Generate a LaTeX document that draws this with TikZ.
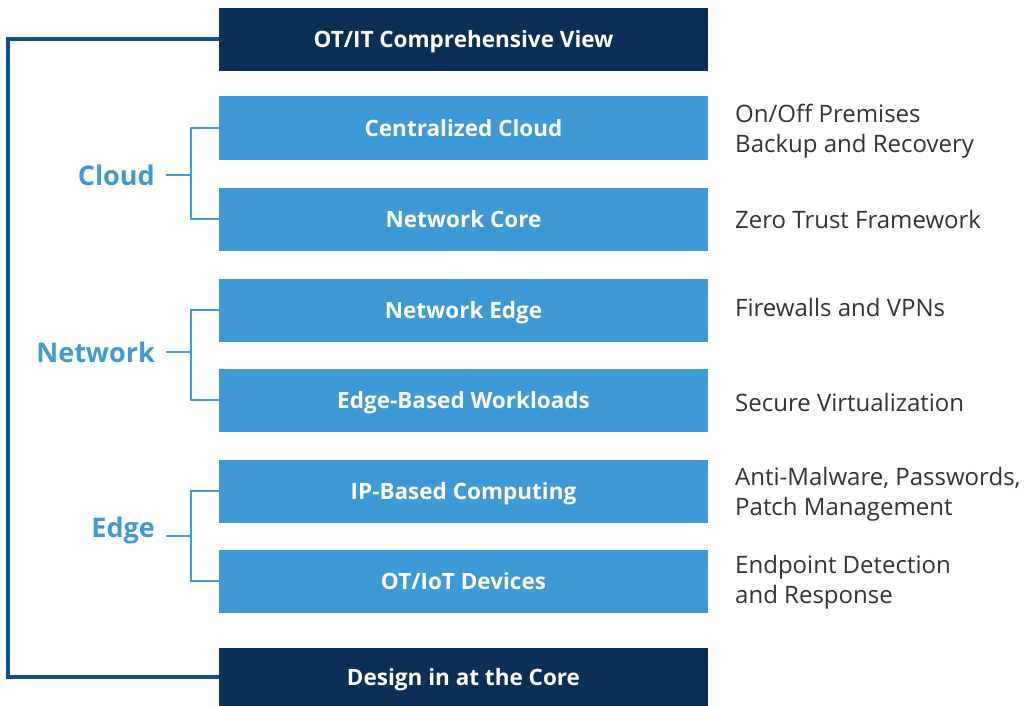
\documentclass[tikz,border=0pt]{standalone}
\usepackage{fontspec}
\setmainfont{Open Sans}
\usetikzlibrary{positioning}

\definecolor{navy}{HTML}{0A2F57}
\definecolor{skyblue}{HTML}{3D9AD6}
\definecolor{frameblue}{HTML}{0B4F8F}
\definecolor{notegray}{HTML}{333333}

\tikzset{
	darkbox/.style = {fill = navy, text = white, minimum width = 489pt, minimum height = 63pt, inner sep = 0pt, text height = 17pt, text depth = 0pt, font = \bfseries\fontsize{22.5}{26}\selectfont},
	lightbox/.style = {darkbox, fill = skyblue},
	layer/.style = {text = skyblue, anchor = east, inner sep = 0pt, font = \bfseries\fontsize{27}{30}\selectfont},
	note/.style = {text = notegray, anchor = west, align = left, inner sep = 0pt, font = \fontsize{24}{30}\selectfont},
	frame/.style = {frameblue, line width = 4pt},
	bracket/.style = {skyblue, line width = 2.5pt}
}

\begin{document}
\begin{tikzpicture}[x = 1pt, y = -1pt]

	% Definitions
	
	\def\X{463.5}	% Box centre
	\def\J{191}		% Bracket joint
	
	\useasboundingbox (0, 0) rectangle (1027, 706);
	
	% Stack of layers
	
	\node [darkbox] (view) at (\X, 39.5) {OT/IT Comprehensive View};
	\node [darkbox, minimum height = 58pt] (design) at (\X, 676.5) {Design in at the Core};
	
	\foreach \y/\name/\txt in {128/cloudbox/{Centralized Cloud}, 219/corebox/{Network Core}, 310/edgebox/{Network Edge}, 400/workbox/{Edge-Based Workloads}, 491/ipbox/{IP-Based Computing}, 581/iotbox/{OT/IoT Devices}}
	{
		\node [lightbox] (\name) at (\X, \y) {\txt};
	}
	
	% Notes on the right
	
	\node [note] (n1) at (735, 131) {On/Off Premises\\Backup and Recovery};
	\node [note] (n2) at (735, 219) {Zero Trust Framework};
	\node [note] (n3) at (735, 307) {Firewalls and VPNs};
	\node [note] (n4) at (735, 402) {Secure Virtualization};
	\node [note] (n5) at (735, 494) {Anti-Malware, Passwords,\\Patch Management};
	\node [note] (n6) at (735, 582) {Endpoint Detection\\and Response};
	
	% Outer frame
	
	\draw [frame] (view.west) -- ++(-210.5, 0) |- (design.west);
	
	% Layer labels and brackets
	
	\node [layer] (cloud) at (155, 175) {Cloud};
	\node [layer] (network) at (155, 352) {Network};
	\node [layer] (edge) at (155, 530) {Edge};
	
	\coordinate (cloudjoint) at (\J, 175);
	\coordinate (networkjoint) at (\J, 352);
	\coordinate (edgejoint) at (\J, 536);
	
	\draw [bracket] (cloudbox.west) -- ++(-28, 0) |- (corebox.west);
	\draw [bracket] (edgebox.west) -- ++(-28, 0) |- (workbox.west);
	\draw [bracket] (ipbox.west) -- ++(-28, 0) |- (iotbox.west);
	
	\draw [bracket] ([xshift = 11pt] cloud.east) -- (cloudjoint);
	\draw [bracket] ([xshift = 11pt] network.east) -- (networkjoint);
	\draw [bracket] ([xshift = 11pt] edge.east |- edgejoint) -- (edgejoint);

\end{tikzpicture}
\end{document}
